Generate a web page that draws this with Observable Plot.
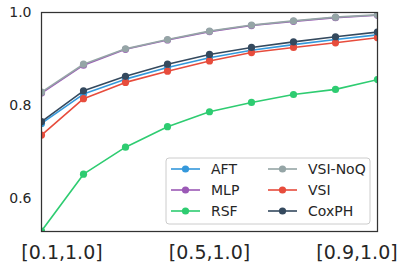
<!DOCTYPE html>
<html>
<head>
<meta charset="utf-8">
<script src="https://cdn.jsdelivr.net/npm/d3@7"></script>
<script src="https://cdn.jsdelivr.net/npm/@observablehq/plot@0.6"></script>
<style>
  html, body { margin: 0; padding: 0; background: white; }
</style>
</head>
<body>
<div id="chart"></div>
<script>
const xLabels = ["[0.1,1.0]", "[0.2,1.0]", "[0.3,1.0]", "[0.4,1.0]", "[0.5,1.0]", "[0.6,1.0]", "[0.7,1.0]", "[0.8,1.0]", "[0.9,1.0]"];
const xTickLabels = ["[0.1,1.0]", "[0.5,1.0]", "[0.9,1.0]"];
const yTicks = [0.6, 0.8, 1.0];

const seriesNames = ["AFT", "MLP", "RSF", "VSI-NoQ", "VSI", "CoxPH"];
const seriesColors = ["#3498db", "#9b59b6", "#2ecc71", "#95a5a6", "#e74c3c", "#34495e"];

const aft    = [0.762, 0.825, 0.857, 0.882, 0.903, 0.919, 0.931, 0.942, 0.952];
const mlp    = [0.827, 0.887, 0.921, 0.941, 0.959, 0.972, 0.981, 0.989, 0.994];
const rsf    = [0.531, 0.653, 0.711, 0.755, 0.787, 0.807, 0.824, 0.835, 0.856];
const vsiNoQ = [0.829, 0.889, 0.922, 0.942, 0.960, 0.973, 0.982, 0.990, 0.995];
const vsi    = [0.737, 0.815, 0.850, 0.874, 0.896, 0.914, 0.925, 0.935, 0.946];
const coxph  = [0.766, 0.832, 0.863, 0.889, 0.910, 0.925, 0.937, 0.948, 0.958];

const seriesValues = [aft, mlp, rsf, vsiNoQ, vsi, coxph];

const seriesMarks = [];
seriesNames.forEach((name, i) => {
  const rows = seriesValues[i].map((v, j) => ({x: xLabels[j], y: v, series: name}));
  seriesMarks.push(Plot.line(rows, {x: "x", y: "y", stroke: seriesColors[i], strokeWidth: 1.6, clip: true}));
  seriesMarks.push(Plot.dot(rows, {x: "x", y: "y", fill: seriesColors[i], r: 3.6, stroke: "none", clip: true}));
});

// tick labels are shifted inward at the ends (as in the reference)
const xTickShift = [20.5, 0, -20.5];

const svg = Plot.plot({
  width: 407,
  height: 268,
  marginLeft: 41,
  marginRight: 30,
  marginTop: 12,
  marginBottom: 37,
  style: {fontFamily: "DejaVu Sans", color: "#262626", background: "white", overflow: "visible"},
  x: {type: "point", domain: xLabels, padding: 0, label: null},
  y: {domain: [0.53, 1.0], label: null},
  marks: [
    Plot.axisY({ticks: yTicks, tickFormat: d => d.toFixed(1), tickSize: 0, tickPadding: 10, fontSize: 14, label: null}),
    ...xTickLabels.map((t, k) => Plot.axisX({ticks: [t], tickSize: 0, tickPadding: 14, fontSize: 19, dx: xTickShift[k], label: null})),
    ...seriesMarks,
    Plot.frame({stroke: "#333", strokeWidth: 1.25})
  ]
});

// Legend (two columns, column-major order)
const lg = d3.select(svg).append("g")
  .attr("font-family", "DejaVu Sans").attr("font-size", 14)
  .attr("fill", "#262626").attr("text-anchor", "start");
lg.append("rect")
  .attr("x", 166).attr("y", 158).attr("width", 204).attr("height", 66)
  .attr("rx", 3).attr("fill", "white").attr("fill-opacity", 0.85)
  .attr("stroke", "#cccccc").attr("stroke-width", 1);
const colX = [171, 268];
const rowY = [169, 190, 211];
seriesNames.forEach((name, i) => {
  const c = Math.floor(i / 3), r = i % 3;
  const x0 = colX[c], y0 = rowY[r];
  const g = lg.append("g");
  g.append("line").attr("x1", x0).attr("x2", x0 + 29).attr("y1", y0).attr("y2", y0)
    .attr("stroke", seriesColors[i]).attr("stroke-width", 1.6);
  g.append("circle").attr("cx", x0 + 14.5).attr("cy", y0).attr("r", 3.6).attr("fill", seriesColors[i]);
  g.append("text").attr("x", x0 + 40).attr("y", y0).attr("dy", "0.35em")
    .attr("text-anchor", "start").text(name);
});

document.getElementById("chart").appendChild(svg);
</script>
</body>
</html>
